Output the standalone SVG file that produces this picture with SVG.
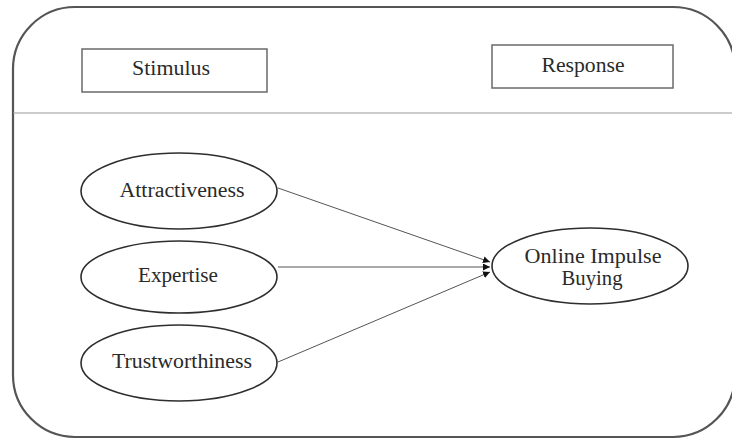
<svg xmlns="http://www.w3.org/2000/svg" width="732" height="439" viewBox="0 0 732 439">
<style>
text{font-family:"Liberation Serif","Times New Roman",serif;font-size:20px;fill:#2a2a2a;text-anchor:middle}
.box{fill:#fff;stroke:#6a6a6a;stroke-width:1.5}
.ell{fill:#fff;stroke:#2e2e2e;stroke-width:1.6}
.edge{stroke:#555;stroke-width:1;fill:none;marker-end:url(#ah)}
</style>
<defs>
<marker id="ah" viewBox="0 0 10 10" refX="10" refY="5" markerWidth="7" markerHeight="7" markerUnits="userSpaceOnUse" orient="auto">
<path d="M0,0 L10,5 L0,10 z" fill="#111"/>
</marker>
</defs>
<rect width="732" height="439" fill="#fff"/>
<g id="frame">
<rect x="13" y="7" width="722" height="430" rx="62" ry="62" fill="none" stroke="#555" stroke-width="2.2"/>
<line x1="13" y1="113" x2="732" y2="113" stroke="#999" stroke-width="1.2"/>
</g>
<g id="stimulus">
<rect class="box" x="82" y="49" width="185" height="43"/>
<text x="171" y="75" textLength="78" lengthAdjust="spacingAndGlyphs">Stimulus</text>
</g>
<g id="response">
<rect class="box" x="492" y="45" width="181" height="43"/>
<text x="583" y="72" textLength="83" lengthAdjust="spacingAndGlyphs">Response</text>
</g>
<g id="connectors">
<line class="edge" x1="278" y1="188" x2="490" y2="262"/>
<line class="edge" x1="278" y1="267" x2="490" y2="267"/>
<line class="edge" x1="278" y1="362" x2="490" y2="272"/>
</g>
<g id="attractiveness">
<ellipse class="ell" cx="179" cy="191" rx="98" ry="38"/>
<text x="182" y="197" textLength="125" lengthAdjust="spacingAndGlyphs">Attractiveness</text>
</g>
<g id="expertise">
<ellipse class="ell" cx="179" cy="277" rx="98" ry="36"/>
<text x="178" y="282" textLength="80" lengthAdjust="spacingAndGlyphs">Expertise</text>
</g>
<g id="trustworthiness">
<ellipse class="ell" cx="179" cy="363" rx="98" ry="38"/>
<text x="182" y="368" textLength="140" lengthAdjust="spacingAndGlyphs">Trustworthiness</text>
</g>
<g id="online-impulse-buying">
<ellipse class="ell" cx="590" cy="266" rx="98" ry="38"/>
<text x="593" y="263" textLength="137" lengthAdjust="spacingAndGlyphs">Online Impulse</text>
<text x="592" y="285" textLength="61" lengthAdjust="spacingAndGlyphs">Buying</text>
</g>
</svg>
